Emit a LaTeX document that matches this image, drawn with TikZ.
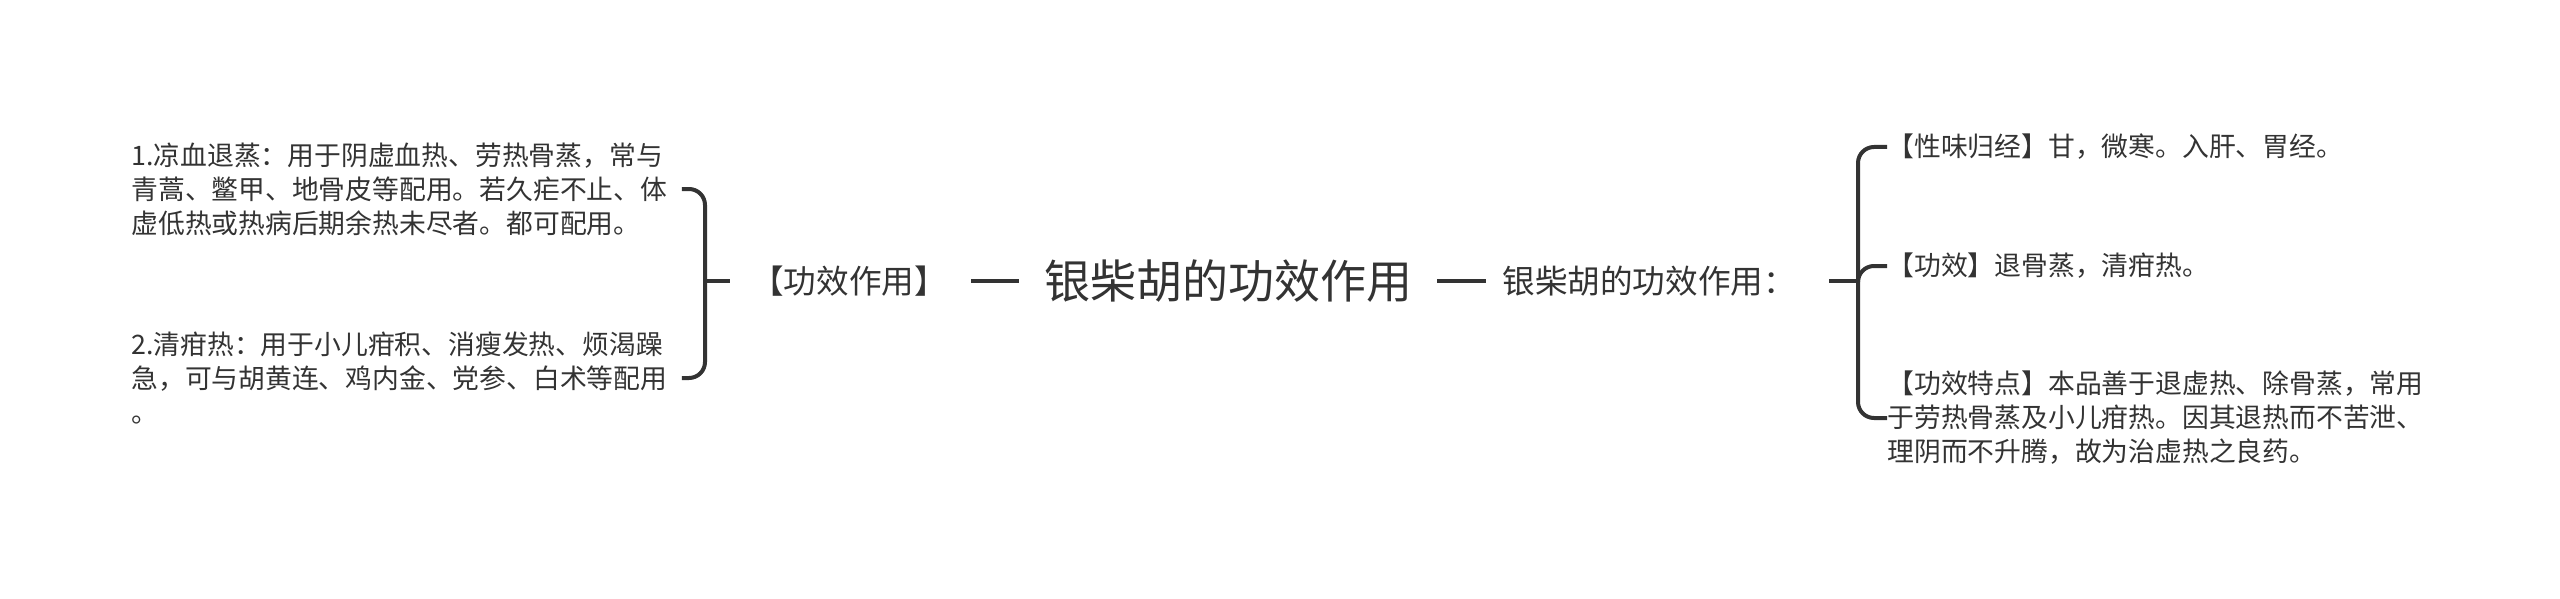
\documentclass[tikz,border=0pt]{standalone}
\usepackage{fontspec}
\newfontfamily\cjk{Noto Sans CJK SC}
\definecolor{inkgray}{HTML}{333333}
\tikzset{
  leaftext/.style={font=\cjk\fontsize{13.4}{17}\selectfont, text=inkgray, align=left, inner sep=0pt, anchor=west},
  branchtext/.style={font=\cjk\fontsize{16.3}{20}\selectfont, text=inkgray, inner sep=0pt},
  roottext/.style={font=\cjk\fontsize{23}{28}\selectfont, text=inkgray, inner sep=0pt},
  link/.style={draw=inkgray, line width=2pt},
}

\begin{document}
\begin{tikzpicture}[x=0.5pt,y=-0.5pt]
			%%%%% START %%%%%
			\useasboundingbox (0,0) rectangle (2560,599);
			
			\node[roottext] (root) at (1228,281) {银柴胡的功效作用};
			\node[branchtext] (effect) at (849,281) {【功效作用】};
			\node[branchtext,anchor=west] (usage) at (1502,281) {银柴胡的功效作用：};
			
			\node[leaftext] (cool) at (131,189) {1.凉血退蒸：用于阴虚血热、劳热骨蒸，常与\\青蒿、鳖甲、地骨皮等配用。若久疟不止、体\\虚低热或热病后期余热未尽者。都可配用。};
			\node[leaftext] (clear) at (131,378) {2.清疳热：用于小儿疳积、消瘦发热、烦渴躁\\急，可与胡黄连、鸡内金、党参、白术等配用\\。};
			
			\node[leaftext] (taste) at (1887,147) {【性味归经】甘，微寒。入肝、胃经。};
			\node[leaftext] (func) at (1887,266) {【功效】退骨蒸，清疳热。};
			\node[leaftext] (trait) at (1887,418) {【功效特点】本品善于退虚热、除骨蒸，常用\\于劳热骨蒸及小儿疳热。因其退热而不苦泄、\\理阴而不升腾，故为治虚热之良药。};
			
			\coordinate (lfork) at (705,281);
			\coordinate (rfork) at (1858,281);
			
			\draw[link,shorten <=12pt,shorten >=12.5pt] (effect) -- (root);
			\draw[link,shorten <=12.5pt,shorten >=8pt] (root) -- (usage);
			
			\draw[link,shorten <=10.5pt] (effect.west) -- (lfork);
			\draw[link,rounded corners=8pt,shorten >=7pt] (lfork) |- (cool.east);
			\draw[link,rounded corners=8pt,shorten >=7pt] (lfork) |- (clear.east);
			
			\draw[link,shorten <=16.5pt] (usage.east) -- (rfork);
			\draw[link,rounded corners=8pt] (rfork) |- (taste.west);
			\draw[link,rounded corners=8pt] (rfork) |- (func.west);
			\draw[link,rounded corners=8pt] (rfork) |- (trait.west);
			
			%%%%% END %%%%%
\end{tikzpicture}
\end{document}
